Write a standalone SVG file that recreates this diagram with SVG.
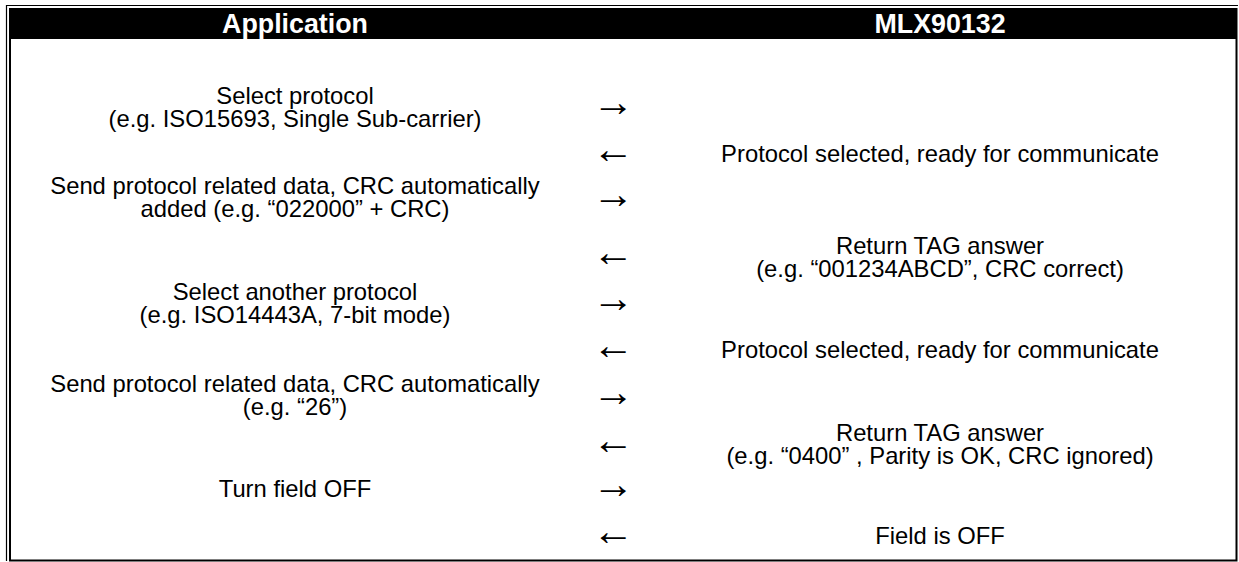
<svg xmlns="http://www.w3.org/2000/svg" width="1239" height="562" viewBox="0 0 1239 562">
<style>
.t{font-family:"Liberation Sans",Arial,sans-serif;font-size:23.8px;fill:#000;text-anchor:middle}
.h{font-family:"Liberation Sans",Arial,sans-serif;font-size:26.8px;font-weight:bold;fill:#fff;text-anchor:middle}
.a{font-family:"Liberation Serif","Times New Roman",serif;font-size:42px;fill:#000;text-anchor:middle}
.ln{stroke:#000;fill:none}
</style>
<rect width="1239" height="562" fill="#fff"/>
<g id="frame">
<path class="ln" stroke-width="1.2" d="M6.5,561 V5.5 H1238"/>
<rect x="9" y="8" width="1228" height="31" fill="#000"/>
<path class="ln" stroke-width="2" d="M10,39 V560.5 H1236.5 V8"/>
</g>
<g id="header">
<text class="h" x="295" y="32.5">Application</text>
<text class="h" x="940" y="32.5">MLX90132</text>
</g>
<g id="app">
<g id="app1"><text class="t" x="295" y="104">Select protocol<tspan x="295" dy="23">(e.g. ISO15693, Single Sub-carrier)</tspan></text></g>
<g id="app2"><text class="t" x="295" y="194">Send protocol related data, CRC automatically<tspan x="295" dy="23">added (e.g. “022000” + CRC)</tspan></text></g>
<g id="app3"><text class="t" x="295" y="300">Select another protocol<tspan x="295" dy="23">(e.g. ISO14443A, 7-bit mode)</tspan></text></g>
<g id="app4"><text class="t" x="295" y="392">Send protocol related data, CRC automatically<tspan x="295" dy="23">(e.g. “26”)</tspan></text></g>
<g id="app5"><text class="t" x="295" y="497">Turn field OFF</text></g>
</g>
<g id="mlx">
<g id="mlx1"><text class="t" x="940" y="162">Protocol selected, ready for communicate</text></g>
<g id="mlx2"><text class="t" x="940" y="254">Return TAG answer<tspan x="940" dy="23">(e.g. “001234ABCD”, CRC correct)</tspan></text></g>
<g id="mlx3"><text class="t" x="940" y="358">Protocol selected, ready for communicate</text></g>
<g id="mlx4"><text class="t" x="940" y="441">Return TAG answer<tspan x="940" dy="23">(e.g. “0400” , Parity is OK, CRC ignored)</tspan></text></g>
<g id="mlx5"><text class="t" x="940" y="544">Field is OFF</text></g>
</g>
<g id="connectors">
<text class="a" x="613" y="115.5">→</text>
<text class="a" x="613" y="162.5">←</text>
<text class="a" x="613" y="208">→</text>
<text class="a" x="613" y="265.5">←</text>
<text class="a" x="613" y="311.5">→</text>
<text class="a" x="613" y="358.5">←</text>
<text class="a" x="613" y="405.5">→</text>
<text class="a" x="613" y="453.5">←</text>
<text class="a" x="613" y="497.5">→</text>
<text class="a" x="613" y="544.5">←</text>
</g>
</svg>
